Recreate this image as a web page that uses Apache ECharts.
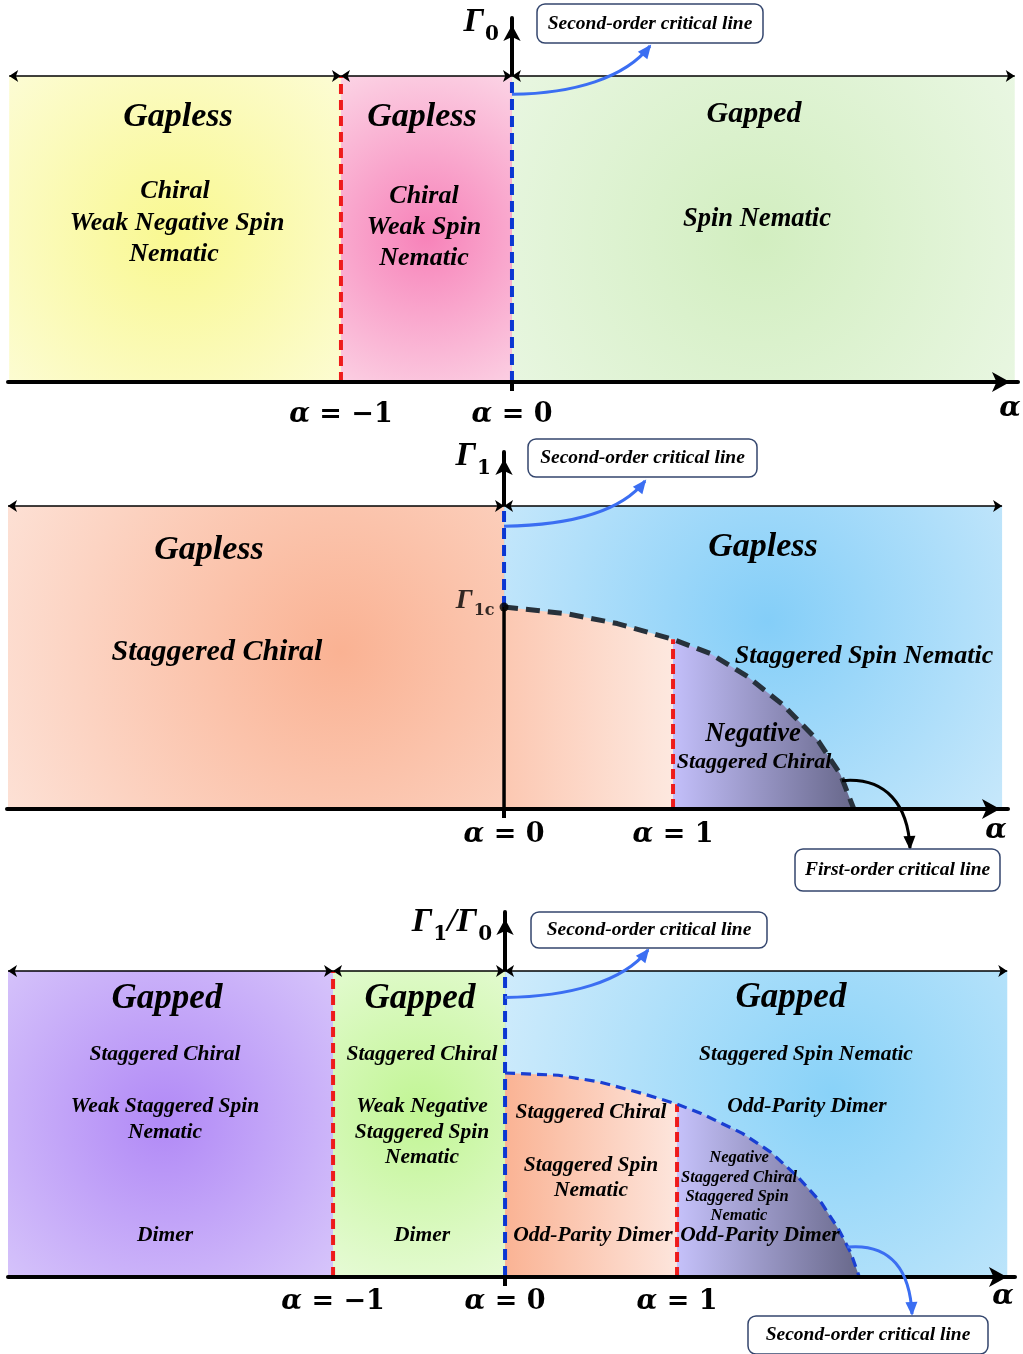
<!DOCTYPE html>
<html><head><meta charset="utf-8">
<script src="https://cdn.jsdelivr.net/npm/echarts@6/dist/echarts.min.js"></script>
<style>html,body{margin:0;padding:0;background:#fff}#c{width:1023px;height:1354px}</style>
</head><body><div id="c"></div>
<script>
// ---------- data ----------
// Panel 1 (Γ0): phase boundaries along α and top of the drawn window
const p1Bounds = [-2.94, -1, 0, 2.94];
const p1Top = 1.5;
const p1Ticks = [-1, 0];
// Panel 2 (Γ1): boundaries, Γ1c and the first-order critical curve (Γ/Γ1c)
const p2Bounds = [-2.935, 0, 2.947];
const p2Top = 1.5;
const p2Gamma1c = 1;
const p2CurveAlpha = [0, 0.37, 0.67, 1.0, 1.22, 1.44, 1.65, 1.86, 1.99, 2.07];
const p2CurveGamma = [1, 0.967, 0.918, 0.84, 0.77, 0.656, 0.516, 0.336, 0.172, 0];
const p2RedAlpha = 1;
const p2Ticks = [0, 1];
// Panel 3 (Γ1/Γ0)
const p3Bounds = [-2.89, -1, 0, 2.92];
const p3Top = 1.5;
const p3CurveAlpha = [0, 0.31, 0.55, 0.80, 1.0, 1.14, 1.38, 1.54, 1.70, 1.84, 1.94, 2.01, 2.06];
const p3CurveGamma = [1, 0.989, 0.956, 0.899, 0.847, 0.802, 0.704, 0.615, 0.493, 0.363, 0.233, 0.119, 0];
const p3RedAlpha = 1;
const p3Ticks = [-1, 0, 1];
// callout anchors (data coords on the boundaries)
const p1CallAnchor = [0, 1.41];
const p2CallAnchor = [0, 1.40];
const p2FirstAnchor = [2.0, 0.14];
const p3CallAnchor = [0, 1.37];
const p3BottomAnchor = [1.99, 0.147];

// ---------- helpers ----------
const SERIF = 'Liberation Serif';
const rg = (x, y, r, c0, c1) => new echarts.graphic.RadialGradient(x, y, r, [{offset:0,color:c0},{offset:1,color:c1}]);
const lg = (c0, c1) => new echarts.graphic.LinearGradient(0, 0, 1, 0, [{offset:0,color:c0},{offset:1,color:c1}]);
const pairs = (xs, ys) => xs.map((x, i) => [x, ys[i]]);

function regionSeries(gi, bounds, top, fills) {
  const data = [];
  for (let i = 0; i < bounds.length - 1; i++) data.push([bounds[i], bounds[i + 1], top]);
  return {
    type: 'custom', xAxisIndex: gi, yAxisIndex: gi, z: 1, silent: true, data,
    encode: {x: [0, 1], y: 2},
    renderItem(params, api) {
      const a = api.coord([api.value(0), api.value(2)]);
      const b = api.coord([api.value(1), 0]);
      return {type: 'rect', shape: {x: a[0], y: a[1], width: b[0] - a[0], height: b[1] - a[1]},
        style: {fill: fills[params.dataIndex]}};
    }
  };
}
function vline(gi, a, y0, y1, color, width, dash, z) {
  return {type: 'line', xAxisIndex: gi, yAxisIndex: gi, data: [[a, y0], [a, y1]], symbol: 'none',
    showSymbol: false, lineStyle: {color, width, type: dash}, z: z || 5, silent: true};
}
function topArrows(gi, bounds, top) {
  const data = [];
  for (let i = 0; i < bounds.length - 1; i++) data.push({coords: [[bounds[i], top], [bounds[i + 1], top]]});
  return {type: 'lines', coordinateSystem: 'cartesian2d', xAxisIndex: gi, yAxisIndex: gi, z: 7, silent: true,
    symbol: ['arrow', 'arrow'], symbolSize: 9, lineStyle: {color: '#000', width: 1.5, opacity: 1}, data};
}
function areaSeries(gi, pts, fill) {
  return {type: 'line', xAxisIndex: gi, yAxisIndex: gi, data: pts, symbol: 'none', showSymbol: false,
    lineStyle: {width: 0, opacity: 0}, areaStyle: {color: fill, opacity: 1}, z: 3, silent: true};
}
function curveSeries(gi, pts, color, width, dash) {
  return {type: 'line', xAxisIndex: gi, yAxisIndex: gi, data: pts, symbol: 'none', showSymbol: false,
    lineStyle: {color, width, type: dash}, z: 6, silent: true};
}

// ---------- layout ----------
const grids = [
  {left: 8, top: 18, width: 1010, height: 364},
  {left: 7, top: 452, width: 1001, height: 357},
  {left: 8, top: 912, width: 1007, height: 365}
];
const xRanges = [[-2.947, 2.959], [-2.941, 2.982], [-2.890, 2.965]];
const yMaxs = [364 / 204, 357 / 202, 365 / 204];
const tickSets = [p1Ticks, p2Ticks, p3Ticks];
const labelMargins = [19, 12, 11];
const alphaNameGap = [-8, -12, -12];
const alphaNamePad = [13, 8, 6];
const yNames = ['{g|Γ}{s|0}', '{g|Γ}{s|1}', '{g|Γ}{s|1}{g|/Γ}{s|0}'];
const yNameGap = [-4, -4, -10];

const labelRich = {
  a: {fontFamily: 'DejaVu Serif', fontStyle: 'italic', fontWeight: 'bold', fontSize: 27, color: '#000'},
  b: {fontFamily: 'DejaVu Serif', fontWeight: 'bold', fontSize: 27, color: '#000'}
};
const nameRich = {
  g: {fontFamily: SERIF, fontStyle: 'italic', fontWeight: 'bold', fontSize: 34, color: '#000', verticalAlign: 'bottom'},
  s: {fontFamily: 'DejaVu Serif', fontWeight: 'bold', fontSize: 20, color: '#000', verticalAlign: 'bottom', padding: [0, 0, -6, 1]}
};

const xAxes = grids.map((g, i) => ({
  type: 'value', gridIndex: i, min: xRanges[i][0], max: xRanges[i][1], z: 10,
  axisLine: {onZero: false, symbol: ['none', 'arrow'], symbolSize: [15, 18], symbolOffset: [0, -8],
    lineStyle: {color: '#000', width: 4}},
  axisTick: {show: true, customValues: [0], length: 9, lineStyle: {color: '#000', width: 4}},
  axisLabel: {show: true, customValues: tickSets[i], margin: labelMargins[i],
    formatter: v => '{a|α}{b| = ' + (v < 0 ? '−' + Math.abs(v) : v) + '}', rich: labelRich},
  splitLine: {show: false},
  name: 'α', nameLocation: 'end', nameGap: alphaNameGap[i],
  nameTextStyle: {fontFamily: 'DejaVu Serif', fontStyle: 'italic', fontWeight: 'bold', fontSize: 28,
    color: '#000', align: 'center', verticalAlign: 'top', padding: [alphaNamePad[i], 0, 0, 0]}
}));
const yAxes = grids.map((g, i) => ({
  type: 'value', gridIndex: i, min: 0, max: yMaxs[i], z: 0,
  axisLine: {show: true, onZero: true, symbol: ['none', 'arrow'], symbolSize: [13, 16], symbolOffset: [0, -7],
    lineStyle: {color: '#000', width: 4}},
  axisTick: {show: false}, axisLabel: {show: false}, splitLine: {show: false},
  name: yNames[i], nameLocation: 'end', nameGap: yNameGap[i],
  nameTextStyle: {align: 'right', verticalAlign: 'middle', padding: [0, 13, 0, 0], rich: nameRich}
}));

// ---------- series ----------
const RED = '#ee1b1b', BLUE = '#0b37d2';
const p2Pts = pairs(p2CurveAlpha, p2CurveGamma);
const p3Pts = pairs(p3CurveAlpha, p3CurveGamma);
const p2RedTop = p2CurveGamma[p2CurveAlpha.indexOf(p2RedAlpha)];
const p3RedTop = p3CurveGamma[p3CurveAlpha.indexOf(p3RedAlpha)];

const series = [
  // panel 1
  regionSeries(0, p1Bounds, p1Top, [
    rg(0.5, 0.52, 0.95, '#f9f890', '#fdfde6'),
    rg(0.5, 0.52, 1.15, '#f782b9', '#fcdbe9'),
    rg(0.49, 0.53, 1.25, '#d2eec0', '#eff9eb')
  ]),
  vline(0, -1, 0, p1Top, RED, 4, [10, 6]),
  vline(0, 0, 0, p1Top, BLUE, 4, [11, 6]),
  topArrows(0, p1Bounds, p1Top),
  // panel 2
  regionSeries(1, p2Bounds, p2Top, [
    rg(0.67, 0.48, 1.3, '#fab293', '#fde4da'),
    rg(0.53, 0.38, 1.3, '#84cef8', '#dcf0fc')
  ]),
  areaSeries(1, p2Pts.filter(p => p[0] <= p2RedAlpha), lg('#fcc8b2', '#fde8df')),
  areaSeries(1, p2Pts.filter(p => p[0] >= p2RedAlpha), lg('#c3bffa', '#67678a')),
  vline(1, 0, p2Gamma1c, p2Top, BLUE, 4, [11, 6]),
  vline(1, 0, 0, p2Gamma1c, '#000', 3.5, 'solid'),
  vline(1, p2RedAlpha, 0, p2RedTop, RED, 4, [10, 5]),
  curveSeries(1, p2Pts, '#27313b', 5, [14, 8]),
  topArrows(1, p2Bounds, p2Top),
  {type: 'scatter', xAxisIndex: 1, yAxisIndex: 1, data: [[0, p2Gamma1c]], symbolSize: 9, z: 8, silent: true,
    itemStyle: {color: '#000'},
    label: {show: true, position: 'left', distance: 5, offset: [0, -6], formatter: '{g|Γ}{s|1c}',
      rich: {g: {fontFamily: SERIF, fontStyle: 'italic', fontWeight: 'bold', fontSize: 28, color: '#000', verticalAlign: 'bottom'},
             s: {fontFamily: 'DejaVu Serif', fontWeight: 'bold', fontSize: 16, color: '#000', verticalAlign: 'bottom', padding: [0, 0, -4, 1]}}}},
  // panel 3
  regionSeries(2, p3Bounds, p3Top, [
    rg(0.48, 0.49, 1.0, '#b189f6', '#e3d9fc'),
    rg(0.5, 0.46, 1.1, '#c1f594', '#e7fbd7'),
    rg(0.65, 0.40, 1.3, '#89d2f8', '#d9effc')
  ]),
  areaSeries(2, p3Pts.filter(p => p[0] <= p3RedAlpha), lg('#fab394', '#fde5dc')),
  areaSeries(2, p3Pts.filter(p => p[0] >= p3RedAlpha), lg('#c5c1fa', '#68688a')),
  vline(2, -1, 0, p3Top, RED, 4, [10, 6]),
  vline(2, 0, 0, p3Top, BLUE, 4, [11, 6]),
  vline(2, p3RedAlpha, 0, p3RedTop, RED, 4, [10, 5]),
  curveSeries(2, p3Pts, '#1a3fd2', 3.2, [10, 6]),
  topArrows(2, p3Bounds, p3Top)
];

const chart = echarts.init(document.getElementById('c'), null, {renderer: 'canvas'});
chart.setOption({
  animation: false, backgroundColor: '#fff',
  grid: grids, xAxis: xAxes, yAxis: yAxes, series
});

// ---------- annotations ----------
const texts = [
  // panel 1
  [178, 117, 'Gapless', 34], [422, 117, 'Gapless', 34], [754, 114, 'Gapped', 30],
  [175, 191, 'Chiral', 26], [177, 223, 'Weak Negative Spin', 26], [174, 254, 'Nematic', 26],
  [424, 196, 'Chiral', 26], [424, 227, 'Weak Spin', 26], [424, 258, 'Nematic', 26],
  [757, 219, 'Spin Nematic', 26.5],
  // panel 2
  [209, 550, 'Gapless', 34], [217, 652, 'Staggered Chiral', 30], [763, 547, 'Gapless', 34],
  [864, 656, 'Staggered Spin Nematic', 26], [753, 734, 'Negative', 26.5], [754, 762, 'Staggered Chiral', 22],
  // panel 3
  [167, 999, 'Gapped', 35], [165, 1054, 'Staggered Chiral', 21.5], [165, 1106, 'Weak Staggered Spin', 21.5],
  [165, 1132, 'Nematic', 21.5], [165, 1235, 'Dimer', 21.5],
  [420, 999, 'Gapped', 35], [422, 1054, 'Staggered Chiral', 21.5], [422, 1106, 'Weak Negative', 21.5],
  [422, 1132, 'Staggered Spin', 21.5], [422, 1157, 'Nematic', 21.5], [422, 1235, 'Dimer', 21.5],
  [791, 998, 'Gapped', 35], [806, 1054, 'Staggered Spin Nematic', 21.5], [807, 1106, 'Odd-Parity Dimer', 21.5],
  [591, 1112, 'Staggered Chiral', 21.5], [591, 1165, 'Staggered Spin', 21.5], [591, 1190, 'Nematic', 21.5],
  [593, 1235, 'Odd-Parity Dimer', 21.5],
  [739, 1158, 'Negative', 16.5], [739, 1178, 'Staggered Chiral', 16.5], [737, 1197, 'Staggered Spin', 16.5],
  [739, 1216, 'Nematic', 16.5], [760, 1235, 'Odd-Parity Dimer', 21.5]
];
const graphic = texts.map(t => ({
  type: 'text', z: 20, silent: true,
  style: {x: t[0], y: t[1], text: t[2], align: 'center', verticalAlign: 'middle',
    font: 'italic bold ' + t[3] + 'px "' + SERIF + '"', fill: '#000'}
}));

const boxes = [
  [537, 4, 226, 39, 'Second-order critical line'],
  [528, 439, 229, 38, 'Second-order critical line'],
  [795, 849, 205, 42, 'First-order critical line'],
  [531, 912, 236, 36, 'Second-order critical line'],
  [748, 1316, 240, 38, 'Second-order critical line']
];
boxes.forEach(b => {
  graphic.push({type: 'rect', z: 20, silent: true, shape: {x: b[0], y: b[1], width: b[2], height: b[3], r: 8},
    style: {fill: '#fff', stroke: '#34466e', lineWidth: 1.5}});
  graphic.push({type: 'text', z: 21, silent: true,
    style: {x: b[0] + b[2] / 2, y: b[1] + b[3] / 2, text: b[4], align: 'center', verticalAlign: 'middle',
      font: 'italic bold 19.5px "' + SERIF + '"', fill: '#000'}});
});

function arrow(start, cp1, cp2, end, color) {
  graphic.push({type: 'bezierCurve', z: 19, silent: true,
    shape: {x1: start[0], y1: start[1], cpx1: cp1[0], cpy1: cp1[1], cpx2: cp2[0], cpy2: cp2[1], x2: end[0], y2: end[1]},
    style: {stroke: color, lineWidth: 3, fill: null}});
  const dx = end[0] - cp2[0], dy = end[1] - cp2[1], L = Math.hypot(dx, dy);
  const ux = dx / L, uy = dy / L, len = 12, hw = 6;
  const bx = end[0] - ux * len, by = end[1] - uy * len;
  graphic.push({type: 'polygon', z: 19, silent: true,
    shape: {points: [[end[0] + ux * 2, end[1] + uy * 2], [bx - uy * hw, by + ux * hw], [bx + uy * hw, by - ux * hw]]},
    style: {fill: color}});
}
const px = (gi, v) => chart.convertToPixel({gridIndex: gi}, v);
function topCallout(gi, anchor, end) {
  const s = px(gi, anchor);
  arrow(s, [s[0] + 0.45 * (end[0] - s[0]), s[1] - 1], [end[0] - 25, end[1] + 32], end, '#3b6ef2');
}
function bottomCallout(gi, anchor, end, color) {
  const s = px(gi, anchor);
  arrow(s, [s[0] + 45, s[1] - 4], [end[0] - 2, end[1] - 42], end, color);
}
topCallout(0, p1CallAnchor, [650, 46]);
topCallout(1, p2CallAnchor, [645, 481]);
topCallout(2, p3CallAnchor, [648, 950]);
bottomCallout(1, p2FirstAnchor, [910, 848], '#000');
bottomCallout(2, p3BottomAnchor, [912, 1314], '#3b6ef2');

chart.setOption({graphic});
</script>
</body></html>
